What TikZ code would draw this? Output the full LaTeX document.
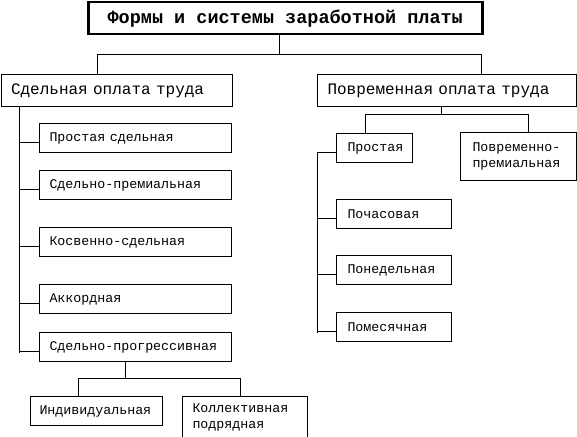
\documentclass[tikz,border=0pt]{standalone}
\usepackage{fontspec}
\newfontfamily\courfont{Liberation Mono}
\usetikzlibrary{positioning}

\begin{document}
\begin{tikzpicture}[x = 1pt, y = -1pt, line width = 1pt]
	\tikzstyle{TitleStyle}=[draw, line width = 2.5pt, anchor = north west, minimum width = 394pt, minimum height = 32pt, inner sep = 0pt, font = \courfont\bfseries\fontsize{18.5}{20}\selectfont]
	\tikzstyle{MainStyle}=[draw, anchor = north west, minimum height = 32pt, inner xsep = 10pt, inner ysep = 0pt, align = left, font = \courfont\fontsize{16}{18}\selectfont]
	\tikzstyle{SubStyle}=[draw, anchor = north west, minimum height = 29pt, inner xsep = 10pt, inner ysep = 0pt, align = left, font = \courfont\fontsize{13.3}{16}\selectfont]
	\useasboundingbox (0,0) rectangle (577,436);
	% top level
	\node[TitleStyle] (title) at (87,1) {Формы и системы заработной платы};
	\node[MainStyle, minimum width = 231pt, text width = 211pt] (sdel) at (0.5,74) {Сдельная оплата труда};
	\node[MainStyle, minimum width = 259pt, text width = 239pt] (povr) at (317,74) {Повременная оплата труда};
	% piece rate
	\node[SubStyle, minimum width = 192pt, text width = 172pt] (prsd) at (39,123) {Простая сдельная};
	\node[SubStyle, minimum width = 192pt, text width = 172pt] (sdpr) at (39,170) {Сдельно-премиальная};
	\node[SubStyle, minimum width = 192pt, text width = 172pt] (kosv) at (39,227) {Косвенно-сдельная};
	\node[SubStyle, minimum width = 192pt, text width = 172pt] (akk) at (39,284) {Аккордная};
	\node[SubStyle, minimum width = 192pt, text width = 172pt] (prog) at (39,332) {Сдельно-прогрессивная};
	\node[SubStyle, minimum width = 132pt, text width = 114pt, inner xsep = 9pt] (ind) at (30,396) {Индивидуальная};
	\node[SubStyle, minimum width = 125pt, text width = 105pt, minimum height = 42pt] (koll) at (182,396) {Коллективная\\подрядная};
	% time rate
	\node[SubStyle, minimum width = 76pt, text width = 54pt, inner xsep = 11pt] (prost) at (336,133) {Простая};
	\node[SubStyle, minimum width = 116pt, text width = 92pt, inner xsep = 12pt, minimum height = 48pt] (prem) at (460,132) {Повременно-\\премиальная};
	\node[SubStyle, minimum width = 115pt, text width = 93pt, inner xsep = 11pt] (chas) at (336,199) {Почасовая};
	\node[SubStyle, minimum width = 115pt, text width = 93pt, inner xsep = 11pt] (ned) at (336,255) {Понедельная};
	\node[SubStyle, minimum width = 115pt, text width = 93pt, inner xsep = 11pt] (mes) at (336,312) {Помесячная};
	% joints
	\coordinate (tj) at (279,54);
	\coordinate (lj) at (97,54);
	\coordinate (rj) at (481,54);
	\coordinate (ls) at (19,353);
	\coordinate (rt) at (441,114);
	\coordinate (rl) at (365,114);
	\coordinate (rr) at (528,114);
	\coordinate (rs) at (317,333);
	\coordinate (bt) at (125,378);
	\coordinate (bl) at (78,378);
	\coordinate (br) at (240,378);
	% connectors
	\draw (title.south -| tj) -- (tj);
	\draw (sdel.north -| lj) -- (lj) -- (rj) -- (povr.north -| rj);
	\draw (sdel.south -| ls) -- (ls);
	\foreach \b in {prsd, sdpr, kosv, akk, prog}
		\draw ([yshift = -4.5pt]\b.west) -- ([yshift = -4.5pt]\b.west -| ls);
	\draw (prog.south -| bt) -- (bt);
	\draw (ind.north -| bl) -- (bl) -- (br) -- (koll.north -| br);
	\draw (povr.south -| rt) -- (rt);
	\draw (prost.north -| rl) -- (rl) -- (rr) -- (prem.north -| rr);
	\draw ([yshift = -4.5pt]prost.west -| rs) -- (rs);
	\foreach \b in {prost, chas, ned, mes}
		\draw ([yshift = -4.5pt]\b.west) -- ([yshift = -4.5pt]\b.west -| rs);
\end{tikzpicture}
\end{document}
